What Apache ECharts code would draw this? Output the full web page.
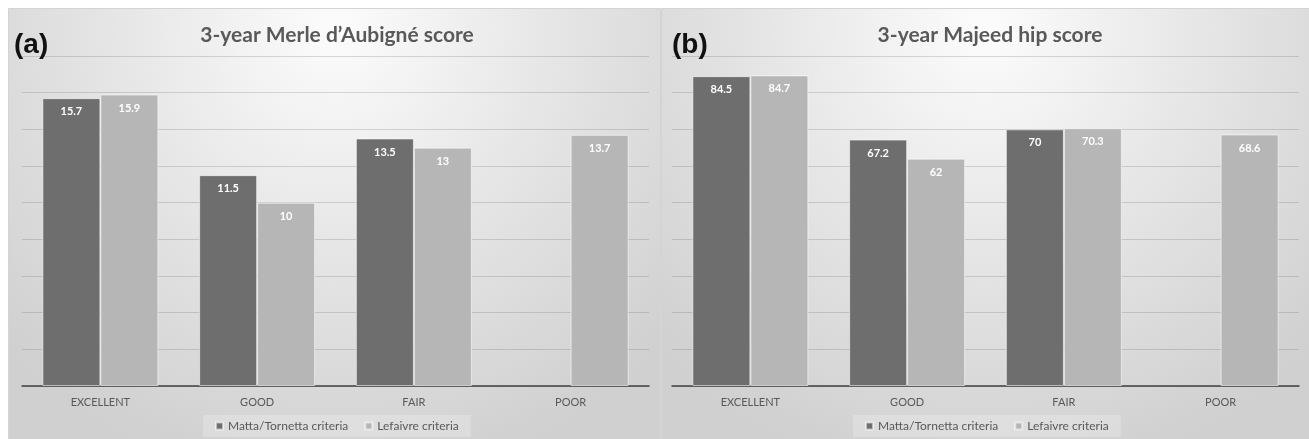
<!DOCTYPE html>
<html>
<head>
<meta charset="utf-8">
<script src="https://cdn.jsdelivr.net/npm/echarts@6/dist/echarts.min.js"></script>
<style>
	html, body { margin: 0; padding: 0; background: #fff; }
	#chart { width: 1309px; height: 439px; }
</style>
</head>
<body>
<div id="chart"></div>
<script>
	// categories and values
	var categories = ['EXCELLENT', 'GOOD', 'FAIR', 'POOR'];
	var seriesNames = ['Matta/Tornetta criteria', 'Lefaivre criteria'];
	var merleMatta = [15.7, 11.5, 13.5, null];
	var merleLefaivre = [15.9, 10, 13, 13.7];
	var majeedMatta = [84.5, 67.2, 70, null];
	var majeedLefaivre = [84.7, 62, 70.3, 68.6];

	var darkColor = '#6e6e6e';
	var lightColor = '#b6b6b6';
	var txtColor = '#595959';

	var chart = echarts.init(document.getElementById('chart'));

	function panelBg(x, w) {
		return {
			type: 'rect',
			left: x, top: 8, z: -10,
			shape: { width: w, height: 431 },
			style: {
				fill: {
					type: 'radial', x: 0.5, y: 0.05, r: 1.05,
					colorStops: [
						{ offset: 0, color: '#fcfcfc' },
						{ offset: 0.5, color: '#e5e5e5' },
						{ offset: 1, color: '#d0d0d0' }
					]
				},
				stroke: '#d4d4d4', lineWidth: 1
			}
		};
	}

	function xAxisCfg(idx) {
		return {
			type: 'category', gridIndex: idx, data: categories,
			axisTick: { show: false },
			axisLine: { lineStyle: { color: '#404040', width: 1.5 } },
			axisLabel: { color: txtColor, fontSize: 11, margin: 11, fontFamily: 'Lato' }
		};
	}

	function yAxisCfg(idx, max, interval) {
		return {
			type: 'value', gridIndex: idx, min: 0, max: max, interval: interval,
			axisLabel: { show: false },
			axisLine: { show: false },
			axisTick: { show: false },
			splitLine: { lineStyle: { color: 'rgba(90,90,90,0.22)', width: 1.2 } }
		};
	}

	function barSeries(name, idx, data, color) {
		return {
			name: name, type: 'bar', xAxisIndex: idx, yAxisIndex: idx,
			data: data, barGap: '0%', barCategoryGap: '26%',
			itemStyle: { color: color, borderColor: 'rgba(255,255,255,0.55)', borderWidth: 1 },
			label: {
				show: true, position: 'insideTop', distance: 8,
				color: '#fff', fontWeight: 'bold', fontSize: 11, fontFamily: 'Lato'
			}
		};
	}

	function legendCfg(x) {
		return {
			data: seriesNames, left: x, top: 415,
			itemWidth: 7, itemHeight: 7, itemGap: 16,
			icon: 'rect',
			backgroundColor: 'rgba(255,255,255,0.22)',
			padding: [5, 12],
			textStyle: { color: txtColor, fontSize: 12, fontFamily: 'Lato' }
		};
	}

	var titleStyle = { color: txtColor, fontSize: 21, fontWeight: 'bold', fontFamily: 'Lato' };
	var tagStyle = { color: '#111', fontSize: 28, fontWeight: 'bold', fontFamily: 'Liberation Sans' };

	var option = {
		animation: false,
		color: [darkColor, lightColor],
		graphic: [panelBg(8, 652), panelBg(661, 648)],
		title: [
			{ text: "3-year Merle d\u2019Aubign\u00e9 score", left: 332, top: 20, textAlign: 'center', textStyle: titleStyle },
			{ text: '3-year Majeed hip score', left: 985, top: 20, textAlign: 'center', textStyle: titleStyle },
			{ text: '(a)', left: 9, top: 26, textStyle: tagStyle },
			{ text: '(b)', left: 667, top: 26, textStyle: tagStyle }
		],
		legend: [legendCfg(203), legendCfg(853)],
		grid: [
			{ left: 22, right: 660, top: 56, bottom: 53 },
			{ left: 672, right: 10, top: 56, bottom: 53 }
		],
		xAxis: [xAxisCfg(0), xAxisCfg(1)],
		yAxis: [yAxisCfg(0, 18, 2), yAxisCfg(1, 90, 10)],
		series: [
			barSeries(seriesNames[0], 0, merleMatta, darkColor),
			barSeries(seriesNames[1], 0, merleLefaivre, lightColor),
			barSeries(seriesNames[0], 1, majeedMatta, darkColor),
			barSeries(seriesNames[1], 1, majeedLefaivre, lightColor)
		]
	};
	chart.setOption(option);
</script>
</body>
</html>
